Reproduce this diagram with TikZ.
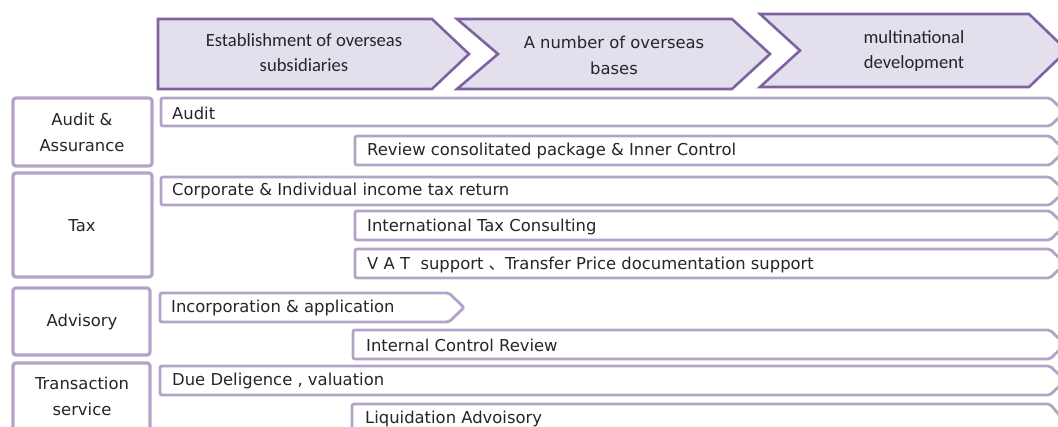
\documentclass[tikz,border=0pt]{standalone}
\usepackage{fontspec}
\setmainfont{DejaVu Sans}
\newfontfamily\calfont{Carlito}
\newfontfamily\cjk{Noto Sans CJK SC}
\definecolor{hdrfill}{HTML}{E4DFEC}
\definecolor{hdrline}{HTML}{7F63A1}
\definecolor{barline}{HTML}{B4A3C8}
\definecolor{txt}{HTML}{262626}
\tikzset{
  hdrshape/.style={fill=hdrfill,draw=hdrline,line width=2.6pt,line join=miter},
  barshape/.style={draw=barline,line width=2.8pt,rounded corners=2pt,fill=white},
  catbox/.style={draw=barline,line width=3.2pt,rounded corners=3pt,fill=white},
  bartext/.style={anchor=west,inner sep=0pt,text=txt,font=\fontsize{16.4}{18}\selectfont},
  cattext/.style={align=center,inner sep=0pt,text=txt,font=\fontsize{16.4}{26}\selectfont},
  hdrtext/.style={align=center,inner sep=0pt,text=txt}
}
% bar: x1, top, bottom, xstraight-end
\newcommand{\sbar}[4]{\path[barshape] (#1,#2) -- (#4,#2) -- ({#4+15},{(#2+#3)/2}) -- (#4,#3) -- (#1,#3) -- cycle;}
\begin{document}
\begin{tikzpicture}[x=1pt,y=-1pt]
\useasboundingbox (0,0) rectangle (1058,426);
\clip (0,0) rectangle (1058,426);
% header chevrons
\path[hdrshape] (158,19) -- (432,19) -- (469,54) -- (432,89) -- (158,89) -- cycle;
\path[hdrshape] (457,19) -- (732,19) -- (770,54) -- (732,89) -- (457,89) -- (498,54) -- cycle;
\path[hdrshape] (760,14) -- (1029,14) -- (1067,50.5) -- (1029,87) -- (760,87) -- (800,50.5) -- cycle;
\node[hdrtext,font=\calfont\fontsize{18.6}{25}\selectfont] (h1) at (304,53) {Establishment of overseas\\subsidiaries};
\node[hdrtext,font=\fontsize{16.4}{26}\selectfont] (h2) at (614,55) {A number of overseas\\bases};
\node[hdrtext,font=\calfont\fontsize{18.6}{25}\selectfont] (h3) at (914,51) {multinational\\development};
% category boxes
\path[catbox] (13,98) rectangle (152,166);
\path[catbox] (13,173) rectangle (152,277);
\path[catbox] (13,288) rectangle (150,355);
\path[catbox] (13,363) rectangle (150,440);
\node[cattext] (c1) at (82,132) {Audit \&\\Assurance};
\node[cattext] (c2) at (82,226) {Tax};
\node[cattext] (c3) at (82,322) {Advisory};
\node[cattext] (c4) at (82,396) {Transaction\\service};
% bars
\sbar{161}{98}{126}{1050}
\sbar{355}{136}{165}{1050}
\sbar{161}{177}{205}{1050}
\sbar{355}{211}{240}{1050}
\sbar{355}{249}{278}{1050}
\sbar{160}{293}{322}{449}
\sbar{353}{330}{359}{1050}
\sbar{160}{366}{395}{1050}
\sbar{352}{404}{440}{1050}
\node[bartext] (b1) at (172,113) {Audit};
\node[bartext] (b2) at (367,151) {Review consolitated package \& Inner Control};
\node[bartext] (b3) at (172,191) {Corporate \& Individual income tax return};
\node[bartext] (b4) at (367,227) {International Tax Consulting};
\node[bartext] (b5) at (367,265) {V A T\ \ support {\cjk 、}Transfer Price documentation support};
\node[bartext] (b6) at (171,308) {Incorporation \& application};
\node[bartext] (b7) at (366,345) {Internal Control Review};
\node[bartext] (b8) at (172,381) {Due Deligence , valuation};
\node[bartext] (b9) at (365,419) {Liquidation Advoisory};
\end{tikzpicture}
\end{document}
